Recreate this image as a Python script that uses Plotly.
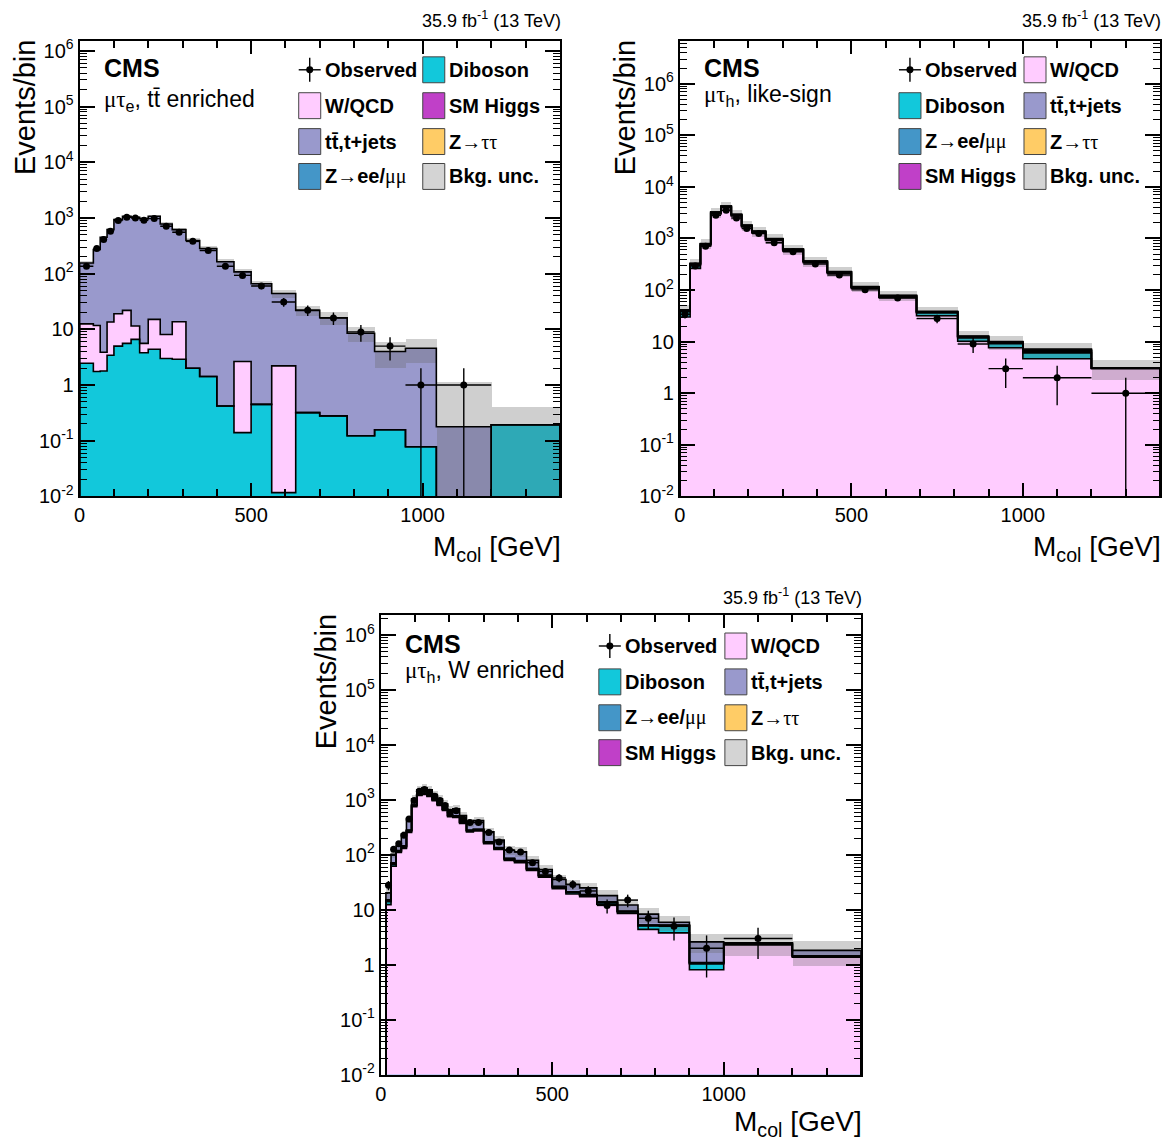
import math
import plotly.graph_objects as go

W, H = 1174, 1146
FONT = "Liberation Sans, Arial, Helvetica, sans-serif"
SERIF = "Liberation Serif, Times New Roman, serif"

# ---------------- Panel 1 : mu tau_e, ttbar enriched ----------------
p1_edges = [0, 40, 60, 80, 100, 125, 150, 175, 200, 235, 270, 310, 350, 400, 450, 500,
            560, 630, 700, 780, 860, 950, 1040, 1200, 1400]
p1_diboson = [2.46, 1.75, 1.79, 3.42, 5.0, 5.6, 6.6, 3.8, 4.4, 3.0, 2.9, 2.0, 1.42, 0.42,
              0.14, 0.45, 0.0117, 0.32, 0.28, 0.123, 0.158, 0.078, 0, 0.194]
p1_wqcd = [10.1, 10.0, 2.1, 10.1, 14.1, 16.3, 4.9, 1.8, 10.7, 5.1, 10.8, 0, 0, 0,
           2.5, 0, 2.2, 0, 0, 0, 0, 0, 0, 0]
p1_ttbar = [143, 259, 447, 604, 915, 1048, 1016, 967, 1055, 773, 604, 391, 281, 163,
            105, 65.5, 41.8, 21.6, 15.9, 8.4, 3.84, 4.49, 0.178, 0]
p1_obs = [136, 282, 409, 577, 896, 1028, 1000, 908, 973, 709, 553, 382, 260, 136,
          93, 60, 31, 22, 16, 9, 5, 1, 1, None]
p1_unc = [0.08, 0.07, 0.07, 0.07, 0.07, 0.07, 0.07, 0.07, 0.07, 0.08, 0.08, 0.1, 0.1, 0.12,
          0.12, 0.14, 0.15, 0.2, 0.26, 0.3, 0.5, 0.46, 5.5, 1.06]

# ---------------- Panel 2 : mu tau_h, like-sign ----------------
p2_edges = [0, 30, 60, 90, 120, 150, 180, 210, 250, 300, 360, 430, 500, 580, 690, 810,
            900, 1000, 1200, 1400]
p2_wqcd = [30, 264, 720, 3000, 3950, 2730, 1680, 1280, 920, 575, 338, 210, 107, 72,
           31.9, 10.2, 7.6, 4.67, 3.0]
p2_diboson = [8, 40, 30, 100, 110, 80, 50, 40, 30, 20, 12, 8, 4, 3, 4, 1.6, 1.5, 1.4, 0.05]
p2_zll = [2, 15, 30, 100, 120, 80, 45, 40, 30, 17, 9, 5, 3, 2, 1.5, 0.5, 0.5, 0.5, 0.03]
p2_ztt = [1, 5, 10, 30, 40, 30, 18, 12, 8, 5, 3, 2, 1.5, 1, 0.5, 0.2, 0.2, 0.2, 0.01]
p2_higgs = [0.2, 1, 2, 5, 6, 4, 3, 2, 1.5, 1, 0.6, 0.4, 0.3, 0.2, 0.1, 0.1, 0.1, 0.1, 0.01]
p2_ttbar = [0.3, 5, 9, 25, 34, 26, 12, 11, 11.5, 7, 3.4, 2.6, 1.2, 0.5, 0.6, 0.3, 0.1, 0.33, 0.01]
p2_obs = [34, 293, 711, 2815, 3516, 2500, 1558, 1248, 825, 553, 320, 196, 101, 70,
          28, 9, 3, 2, 1]
p2_unc = [0.25, 0.22, 0.22, 0.22, 0.22, 0.22, 0.22, 0.22, 0.22, 0.22, 0.22, 0.22, 0.22,
          0.22, 0.25, 0.28, 0.3, 0.32, 0.42]

# ---------------- Panel 3 : mu tau_h, W enriched ----------------
p3_edges = [15, 30, 45, 60, 75, 90, 105, 120, 135, 150, 165, 180, 195, 210, 230, 250, 270,
            300, 330, 360, 390, 425, 460, 500, 540, 580, 630, 690, 750, 810, 900, 1000,
            1200, 1400]
p3_wqcd = [12.4, 62, 110, 131, 255, 755, 1200, 1250, 1150, 970, 790, 640, 494, 481, 373,
           262, 273, 160, 126, 79, 72, 52, 39, 24.3, 19.4, 17.3, 12.7, 8.6, 4.4, 3.8,
           0.81, 2.3, 1.37]
p3_diboson = [1.6, 4, 4, 6, 12, 25, 35, 38, 35, 30, 25, 20, 16, 17, 13, 10, 10, 7, 5, 4,
              3.5, 2.5, 2, 1.3, 1.1, 1.0, 0.7, 0.5, 0.7, 1.3, 0.22, 0.1, 0.05]
p3_zll = [0.8, 3, 3, 5, 8, 15, 20, 22, 20, 17, 14, 11, 9, 9, 7, 5, 5, 4, 3, 2, 2, 1.3, 1,
          0.7, 0.5, 0.4, 0.3, 0.2, 0.1, 0.1, 0.05, 0.05, 0.02]
p3_ztt = [0.3, 2, 2, 3, 5, 8, 10, 10, 9, 7, 6, 5, 4, 4, 3, 2, 2, 1.5, 1, 0.7, 0.6, 0.4,
          0.3, 0.2, 0.15, 0.1, 0.08, 0.05, 0.03, 0.02, 0.01, 0.01, 0.01]
p3_higgs = [0.1, 0.5, 0.6, 0.8, 1.5, 3, 4, 4, 3.5, 3, 2.5, 2, 1.5, 1.5, 1.2, 1, 1, 0.7,
            0.5, 0.4, 0.3, 0.25, 0.2, 0.15, 0.1, 0.08, 0.06, 0.04, 0.03, 0.02, 0.01, 0.01, 0.01]
p3_ttbar = [5.1, 31, 26, 93, 168, 237, 255, 340, 306, 226, 205, 169, 133, 173, 120, 110,
            128, 89.5, 50, 35.3, 34.9, 22.8, 11.7, 9, 7.65, 6.2, 4.3, 2.85, 3.07, 0.68,
            1.51, 0.04, 0.37]
p3_obs = [28, 126, 160, 228, 447, 973, 1440, 1550, 1380, 1170, 970, 787, 594, 637, 447,
          389, 389, 255, 172, 123, 113, 72, 50, 38, 29, 22, 12, 15, 7, 5, 2, 3, None]
p3_unc = [0.3, 0.15, 0.15, 0.15, 0.15, 0.15, 0.15, 0.15, 0.15, 0.15, 0.15, 0.15, 0.15,
          0.15, 0.15, 0.17, 0.17, 0.18, 0.18, 0.2, 0.2, 0.2, 0.2, 0.22, 0.22, 0.22, 0.25,
          0.28, 0.3, 0.3, 0.38, 0.43, 0.48]

# colours
C_WQCD = "#FFCCFF"
C_DIB = "#12C8DB"
C_TT = "#9999CC"
C_ZLL = "#4496C8"
C_ZTT = "#FFCC66"
C_HIG = "#C040C8"
C_UNC = "rgba(105,105,105,0.32)"

LOW = 1e-4

fig = go.Figure()


def add_panel(idx, edges, comps, obs, unc):
    xa = "x" if idx == 1 else "x%d" % idx
    ya = "y" if idx == 1 else "y%d" % idx
    centers = [(a + b) / 2 for a, b in zip(edges[:-1], edges[1:])]
    widths = [b - a for a, b in zip(edges[:-1], edges[1:])]
    cums = []
    running = [0.0] * len(centers)
    for vals, col in comps:
        running = [r + v for r, v in zip(running, vals)]
        cums.append((list(running), col))
    for cum, col in reversed(cums):
        fig.add_trace(go.Bar(x=centers, y=cum, width=widths, xaxis=xa, yaxis=ya,
                             marker=dict(color=col, line=dict(width=0)),
                             showlegend=False, hoverinfo="skip"))
    total = cums[-1][0]
    hi = [t * (1 + u) for t, u in zip(total, unc)]
    lo = [t * (1 - u) if u < 1 else LOW for t, u in zip(total, unc)]
    fig.add_trace(go.Bar(x=centers, y=[h - l for h, l in zip(hi, lo)], base=lo,
                         width=widths, xaxis=xa, yaxis=ya,
                         marker=dict(color=C_UNC, line=dict(width=0)),
                         showlegend=False, hoverinfo="skip"))
    for cum, col in cums:
        vals = [max(v, LOW) for v in cum]
        xs = [edges[0]] + list(edges) + [edges[-1]]
        ys = [LOW] + vals + [vals[-1], LOW]
        fig.add_trace(go.Scatter(x=xs, y=ys, mode="lines", line_shape="hv",
                                 line=dict(color="black", width=1.6),
                                 xaxis=xa, yaxis=ya, showlegend=False, hoverinfo="skip"))
    ox, oy, ex, eyp, eym = [], [], [], [], []
    for c, w, n in zip(centers, widths, obs):
        if n is None:
            continue
        s = math.sqrt(n)
        ox.append(c)
        oy.append(n)
        ex.append(w / 2)
        eyp.append(s)
        eym.append(s if s < n else n * 0.9999)
    fig.add_trace(go.Scatter(x=ox, y=oy, mode="markers", xaxis=xa, yaxis=ya,
                             marker=dict(color="black", size=7),
                             error_x=dict(type="data", array=ex, width=0, color="black", thickness=1.4),
                             error_y=dict(type="data", array=eyp, arrayminus=eym, width=0,
                                          color="black", thickness=1.4),
                             showlegend=False, hoverinfo="skip"))


add_panel(1, p1_edges, [(p1_diboson, C_DIB), (p1_wqcd, C_WQCD), (p1_ttbar, C_TT)], p1_obs, p1_unc)
add_panel(2, p2_edges, [(p2_wqcd, C_WQCD), (p2_diboson, C_DIB), (p2_zll, C_ZLL), (p2_ztt, C_ZTT),
                        (p2_higgs, C_HIG), (p2_ttbar, C_TT)], p2_obs, p2_unc)
add_panel(3, p3_edges, [(p3_wqcd, C_WQCD), (p3_diboson, C_DIB), (p3_zll, C_ZLL), (p3_ztt, C_ZTT),
                        (p3_higgs, C_HIG), (p3_ttbar, C_TT)], p3_obs, p3_unc)


# ---------------- layout helpers (pixel positions -> paper) ----------------
def rx(x):
    return (x - 6.4) / 0.9945


def ry(y):
    return y / 0.99


def px(x):
    return rx(x) / W


def py(y):
    return 1 - ry(y) / H


MAJ = [10.0 ** k for k in range(-2, 8)]
MAJ_TXT = ["10<sup>-2</sup>", "10<sup>-1</sup>", "1", "10", "10<sup>2</sup>", "10<sup>3</sup>",
           "10<sup>4</sup>", "10<sup>5</sup>", "10<sup>6</sup>", "10<sup>7</sup>"]
MIN = [m * 10.0 ** k for k in range(-2, 7) for m in range(2, 10)]


def xcfg(x0, x1, anchor):
    return dict(domain=[px(x0), px(x1)], anchor=anchor, range=[0, 1400], tickmode="linear",
                tick0=0, dtick=500, tickformat="d", ticks="inside", ticklen=13, tickwidth=1.6,
                tickcolor="black", showline=True, linecolor="black", linewidth=2,
                mirror="allticks", showgrid=False, zeroline=False,
                tickfont=dict(family=FONT, size=20, color="black"),
                minor=dict(tick0=0, dtick=100, ticks="inside", ticklen=7, tickwidth=1.6,
                           tickcolor="black", showgrid=False),
                fixedrange=True)


def ycfg(ytop, ybot, toplog, anchor):
    return dict(domain=[py(ybot), py(ytop)], anchor=anchor, type="log",
                range=[-2, toplog], tickmode="array", tickvals=MAJ, ticktext=MAJ_TXT,
                ticks="inside", ticklen=15, tickwidth=1.6, tickcolor="black",
                showline=True, linecolor="black", linewidth=2, mirror="allticks",
                showgrid=False, zeroline=False,
                tickfont=dict(family=FONT, size=20, color="black"),
                minor=dict(tickmode="array", tickvals=MIN, ticks="inside", ticklen=7,
                           tickwidth=1.4, tickcolor="black", showgrid=False),
                fixedrange=True)


fig.update_layout(
    width=W, height=H, margin=dict(l=0, r=0, t=0, b=0),
    paper_bgcolor="white", plot_bgcolor="white", barmode="overlay", bargap=0,
    showlegend=False,
    xaxis=xcfg(80, 560, "y"), yaxis=ycfg(37, 494, 6.179, "x"),
    xaxis2=xcfg(680, 1160, "y2"), yaxis2=ycfg(37, 494, 6.83, "x2"),
    xaxis3=xcfg(381, 861, "y3"), yaxis3=ycfg(613, 1074, 6.363, "x3"),
)

annotations = []
shapes = []


def text(x, y, s, size, xanchor="left", yanchor="middle", angle=0):
    annotations.append(dict(x=px(x), y=py(y), xref="paper", yref="paper", text=s,
                            showarrow=False, xanchor=xanchor, yanchor=yanchor,
                            textangle=angle, borderpad=0,
                            font=dict(family=FONT, size=size, color="black")))


def sym(s):
    return '<span style="font-family:%s">%s</span>' % (SERIF, s)


decor = [
    (560, 37, 80, 16, 64, 97, sym("μτ") + "<sub>e</sub>, tt̄ enriched", 26, 546),
    (1160, 37, 680, 16, 64, 92, sym("μτ") + "<sub>h</sub>, like-sign", 626, 546),
    (861, 613, 381, 594, 642, 670, sym("μτ") + "<sub>h</sub>, W enriched", 326, 1123),
]
for right, top, left, lumy, cmsy, laby, lab, ytx, xty in decor:
    text(right + 2, lumy, "35.9 fb<sup>-1</sup> (13 TeV)", 18, xanchor="right")
    text(left + 23, cmsy, "<b>CMS</b>", 25)
    text(left + 23, laby, lab, 23)
    text(ytx, top - 2, "Events/bin", 29, xanchor="center", yanchor="top", angle=-90)
    text(right + 2, xty, "M<sub>col</sub> [GeV]", 28, xanchor="right")

leg_colors = {
    "W/QCD": C_WQCD,
    "Diboson": C_DIB,
    "SM Higgs": C_HIG,
    "tt̄,t+jets": C_TT,
    "Z→ττ": C_ZTT,
    "Z→ee/μμ": C_ZLL,
    "Bkg. unc.": "#D4D4D4",
}
leg_text = {
    "Z→ττ": "<b>Z</b>" + sym("→ττ"),
    "Z→ee/μμ": "<b>Z</b>" + sym("→") + "<b>ee/</b>" + sym("μμ"),
}


def legend(col_x, rows_y, cols):
    for cx, entries in zip(col_x, cols):
        for cy, lab in zip(rows_y, entries):
            if lab == "Observed":
                shapes.append(dict(type="line", xref="paper", yref="paper",
                                   x0=px(cx), x1=px(cx + 22), y0=py(cy), y1=py(cy),
                                   line=dict(color="black", width=1.4)))
                shapes.append(dict(type="line", xref="paper", yref="paper",
                                   x0=px(cx + 11), x1=px(cx + 11), y0=py(cy - 12), y1=py(cy + 12),
                                   line=dict(color="black", width=1.4)))
                shapes.append(dict(type="circle", xref="paper", yref="paper",
                                   x0=px(cx + 7.5), x1=px(cx + 14.5), y0=py(cy + 3.5), y1=py(cy - 3.5),
                                   fillcolor="black", line=dict(color="black", width=0)))
            else:
                shapes.append(dict(type="rect", xref="paper", yref="paper",
                                   x0=px(cx), x1=px(cx + 22), y0=py(cy + 13), y1=py(cy - 13),
                                   fillcolor=leg_colors[lab],
                                   line=dict(color="#444444", width=1)))
            text(cx + 25, cy, leg_text.get(lab, "<b>%s</b>" % lab), 20)


legend([299, 423], [66, 102, 138, 173],
       [["Observed", "W/QCD", "tt̄,t+jets", "Z→ee/μμ"],
        ["Diboson", "SM Higgs", "Z→ττ", "Bkg. unc."]])
legend([899, 1024], [66, 102, 138, 173],
       [["Observed", "Diboson", "Z→ee/μμ", "SM Higgs"],
        ["W/QCD", "tt̄,t+jets", "Z→ττ", "Bkg. unc."]])
legend([599, 725], [644, 680, 716, 751],
       [["Observed", "Diboson", "Z→ee/μμ", "SM Higgs"],
        ["W/QCD", "tt̄,t+jets", "Z→ττ", "Bkg. unc."]])

fig.update_layout(annotations=annotations, shapes=shapes)

PIN = ("document.documentElement.style.margin='0px';"
       "document.documentElement.style.overflow='hidden';"
       "document.body.style.margin='0px';document.body.style.overflow='hidden';"
       "var gd=document.getElementsByClassName('plotly-graph-div')[0];"
       "gd.style.position='fixed';gd.style.left='0px';gd.style.top='0px';")
fig.write_html("out.html", config={"displayModeBar": False, "responsive": False},
               post_script=PIN)
